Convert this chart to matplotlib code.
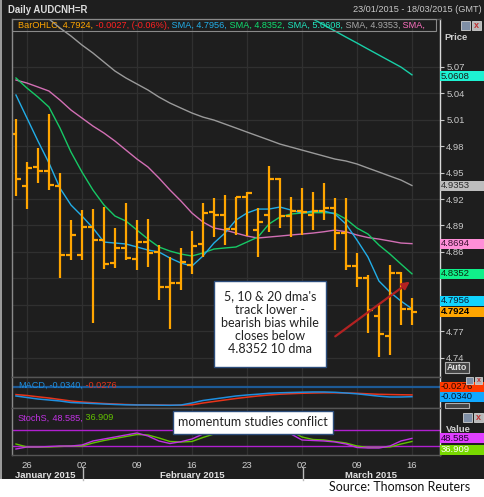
import matplotlib
matplotlib.use("Agg")
import matplotlib.pyplot as plt
import matplotlib.transforms as mtrans
from matplotlib.patches import Rectangle, FancyArrowPatch
import numpy as np

plt.rcParams['font.family'] = ['Liberation Sans', 'DejaVu Sans']

# trading days from 23/01/2015 (index 0) to 16/03/2015 (index 36)
days = list(range(37))
opens = [4.9933, 4.9347, 4.9559, 4.9514, 4.9347, 4.8565, 4.8565, 4.8886, 4.8735, 4.8478,
         4.8641, 4.8519, 4.8716, 4.8599, 4.8199, 4.8251, 4.8451, 4.8690, 4.9052, 4.9018,
         4.8860, 4.9222, 4.8848, 4.9018, 4.9423, 4.9007, 4.9064, 4.9018, 4.9064, 4.9094,
         4.8811, 4.8440, 4.8301, 4.7877, 4.7650, 4.8357, 4.7949]
highs = [5.0103, 4.9619, 4.9775, 5.0160, 4.9491, 4.8962, 4.9075, 4.9083, 4.9112, 4.8868,
         4.9158, 4.8962, 4.8970, 4.8678, 4.8546, 4.8641, 4.8837, 4.9151, 4.9208, 4.9245,
         4.9222, 4.9279, 4.9098, 4.9574, 4.9440, 4.9222, 4.9324, 4.9279, 4.9378, 4.9208,
         4.9208, 4.8584, 4.8338, 4.7998, 4.8451, 4.8376, 4.8074]
lows = [4.9237, 4.9083, 4.9378, 4.9302, 4.8301, 4.8508, 4.8508, 4.7790, 4.8403, 4.8414,
        4.8508, 4.8395, 4.8432, 4.8055, 4.7722, 4.8168, 4.8349, 4.8546, 4.8769, 4.8678,
        4.8792, 4.8780, 4.8546, 4.8829, 4.8871, 4.8769, 4.8792, 4.8848, 4.8962, 4.8622,
        4.8395, 4.8205, 4.7684, 4.7412, 4.7431, 4.7771, 4.7771]
closes = [4.9432, 4.9551, 4.9514, 4.9359, 4.8565, 4.8792, 4.8886, 4.8735, 4.8463, 4.8641,
          4.8531, 4.8716, 4.8591, 4.8199, 4.8251, 4.8489, 4.8667, 4.9044, 4.9018, 4.8860,
          4.9222, 4.9268, 4.8942, 4.9423, 4.9007, 4.9064, 4.9056, 4.9064, 4.9094, 4.8811,
          4.8440, 4.8301, 4.7941, 4.7666, 4.8357, 4.7949, 4.7924]

sma5 = [5.0379, 5.0118, 4.9857, 4.9608, 4.9324, 4.9132, 4.9007, 4.8871, 4.8712, 4.8701,
        4.8690, 4.8656, 4.8622, 4.8599, 4.8531, 4.8474, 4.8440, 4.8554, 4.8701, 4.8814,
        4.8962, 4.9041, 4.9086, 4.9086, 4.9109, 4.9075, 4.9041, 4.9064, 4.9064, 4.9030,
        4.8916, 4.8735, 4.8542, 4.8270, 4.8145, 4.8043, 4.7956]
sma10 = [5.0572, 5.0458, 5.0356, 5.0243, 5.0005, 4.9733, 4.9506, 4.9302, 4.9132, 4.9007,
         4.8950, 4.8848, 4.8746, 4.8656, 4.8610, 4.8576, 4.8554, 4.8588, 4.8633, 4.8645,
         4.8656, 4.8712, 4.8769, 4.8916, 4.8996, 4.9030, 4.9041, 4.9045, 4.9045, 4.9041,
         4.8973, 4.8871, 4.8803, 4.8678, 4.8576, 4.8463, 4.8352]
sma20 = [5.0549, 5.0515, 5.0470, 5.0424, 5.0322, 5.0209, 5.0118, 5.0027, 4.9948, 4.9857,
         4.9755, 4.9653, 4.9563, 4.9438, 4.9302, 4.9177, 4.9041, 4.8939, 4.8871, 4.8848,
         4.8814, 4.8780, 4.8758, 4.8769, 4.8780, 4.8792, 4.8803, 4.8814, 4.8829, 4.8848,
         4.8829, 4.8792, 4.8763, 4.8746, 4.8724, 4.8701, 4.8694]
sma50 = [5.1513, 5.1422, 5.1331, 5.1241, 5.1139, 5.1048, 5.0946, 5.0855, 5.0753, 5.0651,
         5.0572, 5.0504, 5.0436, 5.0356, 5.0288, 5.0231, 5.0175, 5.0129, 5.0095, 5.0050,
         5.0005, 4.9959, 4.9914, 4.9869, 4.9823, 4.9789, 4.9755, 4.9721, 4.9687, 4.9653,
         4.9631, 4.9597, 4.9551, 4.9506, 4.9460, 4.9415, 4.9353]
sma100_days = [27, 28, 29, 30, 31, 32, 33, 34, 35, 36]
sma100 = [5.1241, 5.1173, 5.1105, 5.1036, 5.0969, 5.0900, 5.0832, 5.0764, 5.0696, 5.0608]

macd = [-0.0315, -0.0370, -0.0424, -0.0460, -0.0496, -0.0551, -0.0569, -0.0587, -0.0605, -0.0623,
        -0.0634, -0.0641, -0.0641, -0.0649, -0.0652, -0.0641, -0.0569, -0.0478, -0.0424, -0.0370,
        -0.0315, -0.0279, -0.0250, -0.0217, -0.0199, -0.0188, -0.0178, -0.0170, -0.0170, -0.0181,
        -0.0207, -0.0236, -0.0279, -0.0322, -0.0351, -0.0351, -0.0340]
macd_signal = [-0.0264, -0.0297, -0.0344, -0.0388, -0.0442, -0.0496, -0.0533, -0.0562, -0.0587, -0.0605,
               -0.0623, -0.0634, -0.0641, -0.0641, -0.0649, -0.0649, -0.0634, -0.0569, -0.0514, -0.0460,
               -0.0406, -0.0359, -0.0315, -0.0279, -0.0250, -0.0232, -0.0217, -0.0207, -0.0199, -0.0199,
               -0.0207, -0.0217, -0.0236, -0.0254, -0.0262, -0.0270, -0.0276]

stoch_k = [8.8, 16.3, 16.3, 18.1, 20.0, 20.0, 23.8, 38.8, 46.3, 53.8, 61.3, 68.8, 57.5, 38.8,
           29.4, 36.0, 46.3, 65.0, 80.0, 91.0, 99.0, 100.0, 95.0, 98.0, 87.5, 65.0, 42.5, 40.6,
           38.8, 35.0, 27.5, 14.4, 12.5, 12.5, 20.0, 38.8, 48.585]
stoch_d = [27.5, 16.3, 16.3, 16.3, 18.1, 20.0, 20.0, 31.3, 40.6, 48.1, 55.6, 63.1, 61.3, 50.0,
           36.9, 35.0, 36.9, 51.9, 65.0, 80.0, 91.0, 99.0, 99.0, 98.0, 91.0, 76.0, 53.8, 44.4,
           42.5, 36.9, 31.3, 20.0, 14.4, 14.4, 16.3, 27.5, 36.909]

date_ticks = [1, 6, 11, 16, 21, 26, 31, 36]
date_labels = ['26', '02', '09', '16', '23', '02', '09', '16']
month_names = ['January 2015', 'February 2015', 'March 2015']
month_pos = [2.7, 16.0, 32.3]
month_breaks = [6.05, 26.05]
price_ticks = [4.74, 4.77, 4.80, 4.83, 4.86, 4.89, 4.92, 4.95, 4.98, 5.01, 5.04, 5.07]
# 4.80 and 4.83 sit behind the value tags
price_labels = ['4.74', '4.77', '', '', '4.86', '4.89', '4.92', '4.95', '4.98', '5.01', '5.04', '5.07']

W, H = 485, 497
BG = '#1e1e1e'
ORANGE = '#ffa500'
C5, C10, C20, C50, C100 = '#22aee8', '#16c865', '#d26fb4', '#9a9a9a', '#18d0a8'
MACD_C, SIG_C = '#1e8fe0', '#e8341a'
K_C, D_C = '#c032e2', '#62c200'


def fx(px):
    return px / W


def fy(py):
    return 1 - py / H


fig = plt.figure(figsize=(W / 100, H / 100), dpi=100, facecolor=BG)

ax = fig.add_axes([fx(12), fy(377), 428 / W, (377 - 19) / H])
axm = fig.add_axes([fx(12), fy(408), 428 / W, 31 / H], sharex=ax)
axs = fig.add_axes([fx(12), fy(455), 428 / W, 47 / H], sharex=ax)

for a in (ax, axm, axs):
    a.set_facecolor(BG)
    a.spines['left'].set_color('#8a8a8a')
    a.spines['right'].set_color('#d8d8d8')
    a.spines['top'].set_color('#555555')
    a.spines['bottom'].set_color('#555555')
    for s in a.spines.values():
        s.set_linewidth(1.0)
    a.set_xticks(date_ticks)
    a.grid(axis='x', color='#303030', lw=0.9)
    a.set_axisbelow(True)

ax.set_xlim(-0.36, 38.55)
ax.set_ylim(4.7182, 5.1241)
axm.set_ylim(-0.0750, 0.0373)
axs.set_ylim(-13.75, 162.5)

# price panel
ax.yaxis.tick_right()
ax.set_yticks(price_ticks)
ax.set_yticklabels(price_labels)
ax.tick_params(axis='y', colors='#c8c8c8', labelsize=6.8, length=3, width=0.8, pad=1.5)
ax.tick_params(axis='x', length=0, labelbottom=False)
ax.grid(axis='y', color='#303030', lw=0.9)

ax.plot(sma50, color=C50, lw=1.0)
ax.plot(sma100_days, sma100, color=C100, lw=1.0)
ax.plot(sma20, color=C20, lw=1.0)
ax.plot(sma10, color=C10, lw=1.0)
ax.plot(sma5, color=C5, lw=1.0)

d = np.array(days)
ax.vlines(d, lows, highs, color=ORANGE, lw=1.6)
ax.hlines(opens, d - 0.45, d, color=ORANGE, lw=1.6)
ax.hlines(closes, d, d + 0.45, color=ORANGE, lw=1.6)

# MACD panel
axm.axhline(0, color='#1d5a96', lw=1.6)
axm.plot(macd_signal, color=SIG_C, lw=1.1)
axm.plot(macd, color=MACD_C, lw=1.1)
axm.set_yticks([])
axm.tick_params(axis='x', length=0, labelbottom=False)

# Stochastic panel
axs.axhline(80, color='#b020d0', lw=1.0)
axs.axhline(20, color='#b020d0', lw=1.0)
axs.plot(stoch_d, color=D_C, lw=1.0)
axs.plot(stoch_k, color=K_C, lw=1.0)
axs.set_yticks([])
axs.set_xticklabels(date_labels)
axs.tick_params(axis='x', length=0, pad=4.6, labelsize=6.8, labelcolor='#d0d0d0')

blend = mtrans.blended_transform_factory(axs.transData, fig.transFigure)
for name, pos in zip(month_names, month_pos):
    fig.text(pos, fy(475), name, transform=blend, ha='center', va='center',
             fontsize=6.8, fontweight='bold', color='#e0e0e0')
for b in month_breaks:
    fig.add_artist(plt.Line2D([b, b], [fy(468), fy(480)], transform=blend,
                              color='#bbbbbb', lw=1.0))

# frame pieces
fig.add_artist(Rectangle((0, 0), 1, fy(479), transform=fig.transFigure,
                         facecolor='white', edgecolor='none', zorder=0))
fig.add_artist(Rectangle((0, fy(479)), fx(2.5), 479 / H, transform=fig.transFigure,
                         facecolor='#9a9a9a', edgecolor='none', zorder=0))

renderer = fig.canvas.get_renderer()


def color_text(x, y, parts, size=6.6):
    prefix = ''
    for s, c in parts:
        if prefix:
            t = fig.text(0, 0, prefix, fontsize=size)
            w = t.get_window_extent(renderer=renderer).width
            t.remove()
        else:
            w = 0
        fig.text(fx(x) + w / W, fy(y), s, color=c, fontsize=size, ha='left', va='center')
        prefix += s


fig.text(fx(8), fy(10), 'Daily AUDCNH=R', fontsize=6.9, fontweight='bold',
         color='#dcdcdc', va='center')
fig.text(fx(482), fy(10), '23/01/2015 - 18/03/2015 (GMT)', fontsize=6.6,
         color='#c8c8c8', va='center', ha='right')

fig.add_artist(Rectangle((fx(12), fy(31)), 424 / W, 12 / H, transform=fig.transFigure,
                         facecolor='none', edgecolor='#8a8a8a', lw=0.8, zorder=3))
color_text(18, 25.5, [('BarOHLC, 4.7924,', ORANGE), (' -0.0027, (-0.06%),', '#ff2222'),
                      (' SMA, 4.7956,', C5), (' SMA, 4.8352,', '#10e070'),
                      (' SMA, 5.0608,', '#20e8c0'), (' SMA, 4.9353,', '#a8a8a8'),
                      (' SMA,', '#ff70c0')])
color_text(18, 385, [('MACD,', MACD_C), (' -0.0340,', MACD_C), (' -0.0276', SIG_C)])
color_text(18, 418, [('StochS,', K_C), (' 48.585,', K_C), (' 36.909', D_C)])

fig.text(fx(444), fy(38), 'Price', fontsize=6.8, fontweight='bold', color='#d0d0d0', va='center')


def tag(axis, value, text, bg, fg, dy=0, bold=False):
    ypix = axis.transData.transform((0, value))[1] - dy
    fig.add_artist(Rectangle((fx(440), (ypix - 5) / H), 45 / W, 10 / H,
                             transform=fig.transFigure, facecolor=bg, edgecolor='none', zorder=5))
    fig.text(fx(441), ypix / H, text, color=fg, fontsize=6.8, va='center', ha='left',
             fontweight='bold' if bold else 'normal', zorder=6)


tag(ax, 5.0608, '5.0608', '#1ef2d2', '#1a1a1a', dy=1.5)
tag(ax, 4.9353, '4.9353', '#bdbdbd', '#2a2a2a')
tag(ax, 4.8694, '4.8694', '#ff8fd8', '#3a1030')
tag(ax, 4.8352, '4.8352', '#10f08a', '#0a2a10')
tag(ax, 4.7956, '4.7956', '#10d4ff', '#0a1a30', dy=-8)
tag(ax, 4.7924, '4.7924', '#ffa500', '#000000', bold=True)
tag(axm, -0.0276, '-0.0276', '#ff3a00', '#2a0a00', dy=-8)
tag(axm, -0.0340, '-0.0340', '#10a8ff', '#001830')
tag(axs, 48.585, '48.585', '#e040ff', '#200030')
tag(axs, 36.909, '36.909', '#78d800', '#ffffff', dy=8.5)
fig.text(fx(446), fy(430), 'Value', fontsize=6.8, fontweight='bold', color='#d0d0d0', va='center')


def button(x, y, w, h, label):
    fig.add_artist(Rectangle((fx(x), fy(y + h)), w / W, h / H, transform=fig.transFigure,
                             facecolor='#444444', edgecolor='#b0b0b0', lw=0.8, zorder=5))
    if label:
        fig.text(fx(x + w / 2), fy(y + h / 2), label, fontsize=6.4, fontweight='bold',
                 color='#e0e0e0', ha='center', va='center', zorder=6)


def win_icons(x, y, s=9):
    fig.add_artist(Rectangle((fx(x), fy(y + s)), s / W, s / H, transform=fig.transFigure,
                             facecolor='#7f8fa6', edgecolor='#d0d0d0', lw=0.6, zorder=7))
    fig.add_artist(Rectangle((fx(x + s + 2), fy(y + s)), s / W, s / H, transform=fig.transFigure,
                             facecolor='#b8b8b8', edgecolor='#d0d0d0', lw=0.6, zorder=7))
    fig.text(fx(x + 1.5 * s + 2), fy(y + s / 2 + 0.3), 'x', fontsize=s * 0.72, fontweight='bold',
             color='#c03030', ha='center', va='center', zorder=8)


button(445, 362, 24, 11, 'Auto')
button(445, 403, 24, 5, '')
win_icons(461, 21)
win_icons(466, 377, s=7)
win_icons(463, 413)

# commentary boxes
fig.add_artist(Rectangle((fx(214), fy(367)), 112 / W, 86 / H, transform=fig.transFigure,
                         facecolor='white', edgecolor='#2c4d7c', lw=1.0, zorder=7))
fig.text(fx(270), fy(323), "5, 10 & 20 dma's\ntrack lower -\nbearish bias while\ncloses below\n4.8352 10 dma",
         family='Lato', fontsize=9, color='#222222', ha='center', va='center',
         linespacing=1.12, zorder=8)
fig.add_artist(FancyArrowPatch((fx(333), fy(338)), (fx(412), fy(280)), transform=fig.transFigure,
                               arrowstyle='-|>', mutation_scale=11, color='#b22222', lw=1.6, zorder=8))

fig.add_artist(Rectangle((fx(173), fy(434)), 160 / W, 23 / H, transform=fig.transFigure,
                         facecolor='white', edgecolor='#2c4d7c', lw=1.0, zorder=7))
fig.text(fx(178), fy(422.5), 'momentum studies conflict', family='Lato', fontsize=9,
         color='#222222', ha='left', va='center', zorder=8)

fig.text(fx(329), fy(487), 'Source: Thomson Reuters', family='Lato', fontsize=9,
         color='#111111', ha='left', va='center')

fig.savefig('out.png', dpi=100, facecolor=BG)
